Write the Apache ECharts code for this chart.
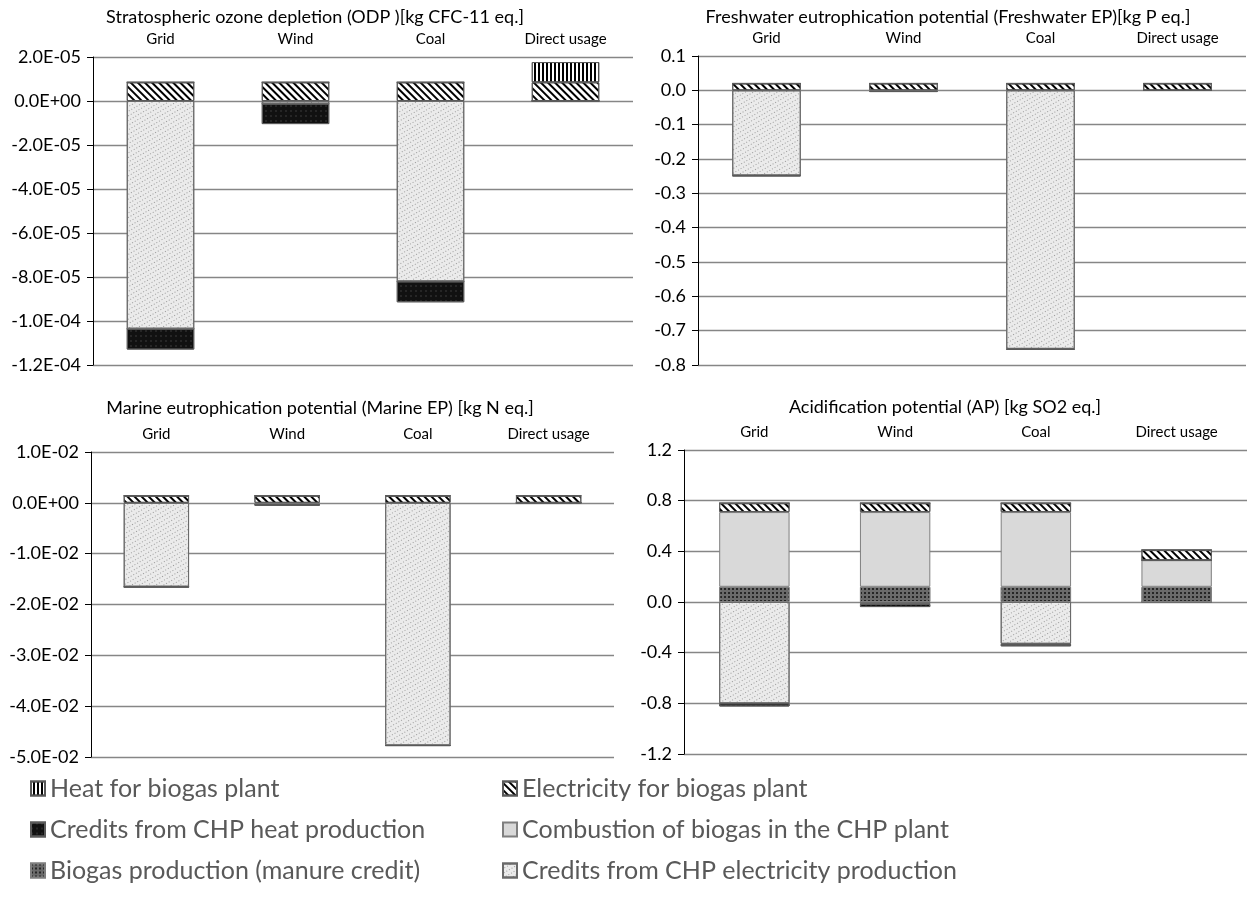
<!DOCTYPE html>
<html><head><meta charset="utf-8">
<script src="https://cdn.jsdelivr.net/npm/echarts@6/dist/echarts.min.js"></script>
<style>html,body{margin:0;padding:0;background:#fff}#c{width:1249px;height:899px}</style>
</head><body><div id="c"></div>
<script>
// ---------- data ----------
const categories = ['Grid', 'Wind', 'Coal', 'Direct usage'];

// legend display order (two columns, row by row)
const legendOrder = [
  'Heat for biogas plant', 'Electricity for biogas plant',
  'Credits from CHP heat production', 'Combustion of biogas in the CHP plant',
  'Biogas production (manure credit)', 'Credits from CHP electricity production'
];
// stacking order (first = closest to zero)
const stackOrder = [
  'Credits from CHP electricity production', 'Biogas production (manure credit)',
  'Combustion of biogas in the CHP plant', 'Credits from CHP heat production',
  'Electricity for biogas plant', 'Heat for biogas plant'
];

const panelTitles = [
  'Stratospheric ozone depletion (ODP )[kg CFC-11 eq.]',
  'Freshwater eutrophication potential (Freshwater EP)[kg P eq.]',
  'Marine eutrophication potential (Marine EP) [kg N eq.]',
  'Acidification potential (AP) [kg SO2 eq.]'
];

// ODP [kg CFC-11 eq.]
const odpCreditsElec = [-1.035e-4, -1.2e-6, -8.2e-5, 0];
const odpBiogasProd  = [0, 0, 0, 0];
const odpCombustion  = [0, 0, 0, 0];
const odpCreditsHeat = [-9.5e-6, -9.3e-6, -9.5e-6, 0];
const odpElectricity = [8.5e-6, 8.5e-6, 8.5e-6, 8.5e-6];
const odpHeat        = [0, 0, 0, 9.2e-6];

// Freshwater EP [kg P eq.]
const fwCreditsElec = [-0.248, -0.002, -0.753, 0];
const fwBiogasProd  = [0, 0, 0, 0];
const fwCombustion  = [0, 0, 0, 0];
const fwCreditsHeat = [-0.002, -0.003, -0.002, 0];
const fwElectricity = [0.02, 0.02, 0.02, 0.02];
const fwHeat        = [0, 0, 0, 0];

// Marine EP [kg N eq.]
const meCreditsElec = [-0.0165, -0.0002, -0.0477, 0];
const meBiogasProd  = [0, 0, 0, 0];
const meCombustion  = [0, 0, 0, 0];
const meCreditsHeat = [-0.0001, -0.0004, -0.0001, 0];
const meElectricity = [0.0014, 0.0014, 0.0014, 0.0014];
const meHeat        = [0, 0, 0, 0];

// AP [kg SO2 eq.]
const apCreditsElec = [-0.80, -0.015, -0.33, 0];
const apBiogasProd  = [0.12, 0.12, 0.12, 0.12];
const apCombustion  = [0.59, 0.59, 0.59, 0.21];
const apCreditsHeat = [-0.025, -0.025, -0.02, 0];
const apElectricity = [0.07, 0.07, 0.07, 0.08];
const apHeat        = [0, 0, 0, 0];

// y-axis ranges [min, max, interval]
const odpAxis = [-1.2e-4, 2e-5, 2e-5];
const fwAxis  = [-0.8, 0.1, 0.1];
const meAxis  = [-0.05, 0.01, 0.01];
const apAxis  = [-1.2, 1.2, 0.4];

// ---------- build ----------
const panelData = [
  [odpCreditsElec, odpBiogasProd, odpCombustion, odpCreditsHeat, odpElectricity, odpHeat],
  [fwCreditsElec, fwBiogasProd, fwCombustion, fwCreditsHeat, fwElectricity, fwHeat],
  [meCreditsElec, meBiogasProd, meCombustion, meCreditsHeat, meElectricity, meHeat],
  [apCreditsElec, apBiogasProd, apCombustion, apCreditsHeat, apElectricity, apHeat]
];
const panelAxes = [odpAxis, fwAxis, meAxis, apAxis];
const sciFmt = [true, false, true, false];

function sci(v) {
  if (Math.abs(v) < 1e-15) return '0.0E+00';
  const s = v.toExponential(1);
  const parts = s.split('e');
  const sign = parts[1][0];
  const d = parts[1].slice(1).padStart(2, '0');
  return parts[0] + 'E' + sign + d;
}
function fix(v) {
  if (Math.abs(v) < 1e-9) return '0.0';
  return v.toFixed(1);
}

const FONT = 'Lato, "Open Sans", sans-serif';
const styles = {
  'Heat for biogas plant': {
    color: '#ffffff', borderColor: '#5a5a5a', borderWidth: 1,
    decal: { symbol: 'rect', symbolSize: 1, dashArrayX: [1, 0], dashArrayY: [1.5, 1.5], rotation: Math.PI / 2, color: '#000000' }
  },
  'Electricity for biogas plant': {
    color: '#ffffff', borderColor: '#5a5a5a', borderWidth: 1,
    decal: { symbol: 'rect', symbolSize: 1, dashArrayX: [1, 0], dashArrayY: [2, 2.2], rotation: Math.PI / 4, color: '#000000' }
  },
  'Credits from CHP heat production': {
    color: '#111111', borderColor: '#5a5a5a', borderWidth: 1,
    decal: { symbol: 'rect', symbolSize: 0.6, dashArrayX: [1.5, 3], dashArrayY: [1.5, 3], rotation: 0, color: 'rgba(255,255,255,0.3)' }
  },
  'Combustion of biogas in the CHP plant': {
    color: '#d9d9d9', borderColor: '#7f7f7f', borderWidth: 1
  },
  'Biogas production (manure credit)': {
    color: '#6a6a6a', borderColor: '#7f7f7f', borderWidth: 1,
    decal: { symbol: 'rect', symbolSize: 1, dashArrayX: [2, 2], dashArrayY: [2, 2], rotation: 0, color: '#262626' }
  },
  'Credits from CHP electricity production': {
    color: '#ebebeb', borderColor: '#6a6a6a', borderWidth: 1,
    decal: { symbol: 'rect', symbolSize: 0.8, dashArrayX: [1, 2.5], dashArrayY: [1, 2], rotation: Math.PI / 3, color: 'rgba(70,70,70,0.6)' }
  }
};

const grids = [
  { left: 93, top: 57, width: 540, height: 308 },
  { left: 698, top: 56, width: 548, height: 309 },
  { left: 91, top: 452, width: 523, height: 305 },
  { left: 684, top: 450, width: 563, height: 304 }
];

const xAxes = grids.map((g, i) => ({
  type: 'category', gridIndex: i, data: categories, position: 'top',
  axisLine: { show: false }, axisTick: { show: false }, splitLine: { show: false },
  axisLabel: { color: '#000', fontSize: 15, fontFamily: FONT, margin: 10 }
}));

const yAxes = grids.map((g, i) => ({
  type: 'value', gridIndex: i,
  min: panelAxes[i][0], max: panelAxes[i][1], interval: panelAxes[i][2],
  axisLine: { show: true, lineStyle: { color: '#000', width: 1 } },
  axisTick: { show: true, length: 6, lineStyle: { color: '#000', width: 1 } },
  splitLine: { show: true, lineStyle: { color: '#868686', width: 1.4 } },
  axisLabel: { color: '#000', fontSize: 18, fontFamily: FONT, margin: 12,
    formatter: v => sciFmt[i] ? sci(v) : fix(v) }
}));

const series = [];
panelData.forEach((arrs, p) => {
  stackOrder.forEach((name, k) => {
    series.push({
      type: 'bar', name: name, xAxisIndex: p, yAxisIndex: p, stack: 'p' + p,
      barWidth: '50%', data: arrs[k], itemStyle: styles[name],
      emphasis: { disabled: true }
    });
  });
});

const titleCenters = [[315, 17], [948, 17], [320, 408], [945, 407]];
const graphics = panelTitles.map((t, i) => ({
  type: 'text', x: titleCenters[i][0], y: titleCenters[i][1], silent: true,
  style: { text: t, fill: '#000', font: '18px ' + FONT, align: 'center', verticalAlign: 'middle',
    textAlign: 'center', textVerticalAlign: 'middle' }
}));

const rowY = [790, 831, 872];
const legends = legendOrder.map((name, i) => ({
  data: [name], left: (i % 2 === 0) ? 30 : 502, top: rowY[Math.floor(i / 2)] - 14,
  orient: 'horizontal', itemWidth: 14, itemHeight: 14, itemGap: 0, padding: 0,
  icon: 'rect', selectedMode: false,
  textStyle: { fontSize: 25, color: '#595959', fontFamily: FONT }
}));

const chart = echarts.init(document.getElementById('c'), null, { renderer: 'canvas' });
chart.setOption({
  animation: false,
  backgroundColor: '#ffffff',
  grid: grids,
  xAxis: xAxes,
  yAxis: yAxes,
  legend: legends,
  graphic: graphics,
  tooltip: { show: false },
  series: series
});
</script>
</body></html>
